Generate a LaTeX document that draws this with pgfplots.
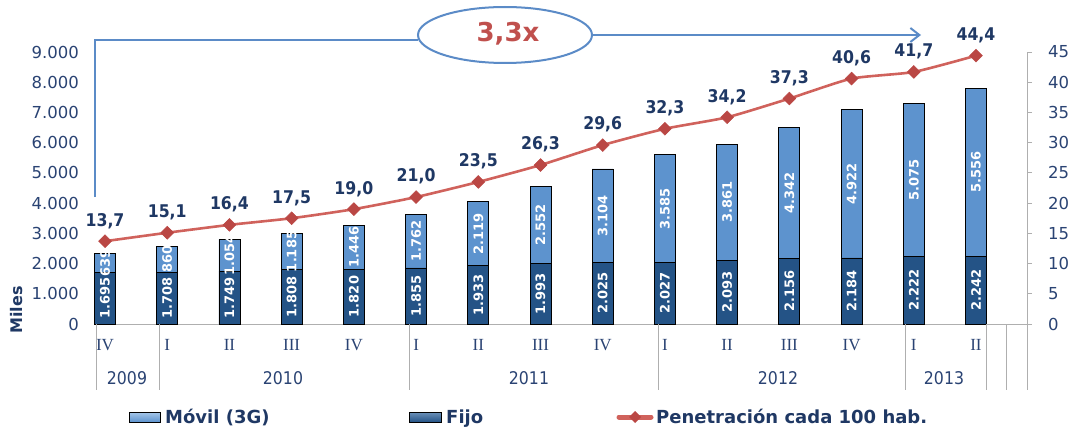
\documentclass[border=0pt]{standalone}
\usepackage{pgfplots}
\pgfplotsset{compat=1.18}
\usepackage{pgfplotstable}
\usepackage{fontspec}
\setmainfont{DejaVu Sans}
\newfontfamily\condfont{DejaVu Sans Condensed}
\newfontfamily\romanfont{Liberation Serif}
\usetikzlibrary{arrows.meta}

\definecolor{navy}{HTML}{1F3864}
\definecolor{ticknavy}{HTML}{2A4373}
\definecolor{fijo}{HTML}{2E639C}
\definecolor{fijodark}{HTML}{245386}
\definecolor{movil}{HTML}{6CA2DB}
\definecolor{movildark}{HTML}{5D93CE}
\definecolor{linered}{HTML}{D0625C}
\definecolor{markred}{HTML}{BA4744}
\definecolor{annred}{HTML}{C0504D}
\definecolor{annblue}{HTML}{5B8BC7}
\definecolor{divgray}{HTML}{AFAFAF}

\pgfplotstableread{
x  fijo movil pen
0  1695 639  13.7
1  1708 860  15.1
2  1749 1054 16.4
3  1808 1185 17.5
4  1820 1446 19.0
5  1855 1762 21.0
6  1933 2119 23.5
7  1993 2552 26.3
8  2025 3104 29.6
9  2027 3585 32.3
10 2093 3861 34.2
11 2156 4342 37.3
12 2184 4922 40.6
13 2222 5075 41.7
14 2242 5556 44.4
}\data

\pgfplotsset{
  base/.style={at={(96pt,108pt)}, anchor=south west, scale only axis,
    width=931pt, height=272pt, xmin=-0.145, xmax=14.82, clip=false},
}

\begin{document}
\begin{tikzpicture}
\path[use as bounding box] (0,0) rectangle (1070pt,432pt);

\begin{axis}[base, ymin=0, ymax=9000, ybar stacked, bar width=21pt,
  axis x line*=bottom, axis y line*=left,
  x axis line style={draw=divgray, line width=1pt},
  y axis line style={draw=none},
  major tick length=0pt,
  xtick={0,...,14},
  xticklabels={IV,I,II,III,IV,I,II,III,IV,I,II,III,IV,I,II},
  xticklabel style={font=\romanfont\fontsize{17}{17}\selectfont, text=ticknavy, anchor=center, yshift=-21pt},
  ytick={0,1000,...,9000},
  yticklabel={\fontsize{16.5}{18}\selectfont\pgfmathprintnumber[1000 sep={.},assume math mode=true]{\tick}},
  yticklabel style={text=ticknavy, anchor=east, inner sep=0pt, xshift=-17pt},
]
\addplot[left color=fijodark, middle color=fijo, right color=fijodark, draw=black, line width=0.8pt] table[x=x,y=fijo]{\data};
\addplot[left color=movildark, middle color=movil, right color=movildark, draw=black, line width=0.8pt] table[x=x,y=movil]{\data};
\end{axis}

\begin{axis}[base, ymin=0, ymax=9000, hide axis,
  /pgf/number format/1000 sep={.},
  /pgf/number format/assume math mode=true]
\addplot[draw=none, mark=none, nodes near coords, point meta=explicit,
  nodes near coords align={center},
  every node near coord/.append style={rotate=90, font=\bfseries\fontsize{13}{13}\selectfont, text=white, inner sep=0pt}]
  table[x=x, y expr=\thisrow{fijo}/2, meta=fijo]{\data};
\addplot[draw=none, mark=none, nodes near coords, point meta=explicit,
  nodes near coords align={center},
  every node near coord/.append style={rotate=90, font=\bfseries\fontsize{13}{13}\selectfont, text=white, inner sep=0pt}]
  table[x=x, y expr=\thisrow{fijo}+\thisrow{movil}/2, meta=movil]{\data};
\end{axis}

\begin{axis}[base, ymin=0, ymax=45,
  axis x line=none, axis y line*=right,
  y axis line style={draw=divgray, line width=1pt},
  ytick={0,5,...,45},
  tick align=outside, major tick length=5pt,
  ytick style={draw=divgray, line width=0.8pt},
  yticklabel={\fontsize{16.5}{18}\selectfont\pgfmathprintnumber[assume math mode=true]{\tick}},
  yticklabel style={text=ticknavy, anchor=west, inner sep=0pt, xshift=16pt},
]
\addplot[linered, line width=2.6pt, smooth, tension=0.35,
  mark=square*, mark size=4.5pt,
  mark options={rotate=45, fill=markred, draw=markred, line width=0.6pt},
  nodes near coords={\pgfmathprintnumber[fixed,fixed zerofill,precision=1,use comma,assume math mode=true]{\pgfplotspointmeta}},
  every node near coord/.append style={font=\condfont\bfseries\fontsize{17.5}{18}\selectfont, text=navy, anchor=south, yshift=9pt}]
  table[x=x,y=pen]{\data};
\end{axis}

% category dividers below the axis
\foreach \xx in {96,159,409,658,905,986,1006,1027}
  \draw[divgray, line width=1pt] (\xx pt,108pt) -- (\xx pt,42pt);

% year labels
\begin{scope}[every node/.style={font=\condfont\fontsize{17.5}{18}\selectfont, text=ticknavy}]
\node at (127pt,54pt) {2009};
\node at (283pt,54pt) {2010};
\node at (529pt,54pt) {2011};
\node at (778pt,54pt) {2012};
\node at (944pt,54pt) {2013};
\end{scope}

% y label
\node[rotate=90, font=\bfseries\fontsize{16}{18}\selectfont, text=navy] at (17pt,122pt) {Miles};

% annotation
\draw[annblue, line width=2.5pt] (95pt,235pt) -- (95pt,392pt) -- (418pt,392pt);
\draw[annblue, line width=2pt, fill=white] (505pt,397pt) ellipse [x radius=87pt, y radius=28pt];
\node[font=\bfseries\fontsize{26}{28}\selectfont, text=annred] at (508pt,398pt) {3,3x};
\draw[annblue, line width=2.5pt, -{Straight Barb[length=9pt,width=14pt,line width=2pt]}] (593pt,397pt) -- (921pt,397pt);

% legend
\draw[black, line width=0.8pt, top color=movil!60!white, bottom color=movildark] (129pt,10pt) rectangle (160pt,20pt);
\node[anchor=base west, inner sep=0pt, font=\bfseries\fontsize{18}{20}\selectfont, text=navy] at (165pt,9pt) {Móvil (3G)};
\draw[black, line width=0.8pt, top color=fijo!70!white, bottom color=fijodark] (409pt,10pt) rectangle (441pt,20pt);
\node[anchor=base west, inner sep=0pt, font=\bfseries\fontsize{18}{20}\selectfont, text=navy] at (446pt,9pt) {Fijo};
\draw[linered, line width=5pt, line cap=round] (619pt,15pt) -- (651pt,15pt);
\fill[markred] (635pt,21pt) -- (641pt,15pt) -- (635pt,9pt) -- (629pt,15pt) -- cycle;
\node[anchor=base west, inner sep=0pt, font=\bfseries\fontsize{18}{20}\selectfont, text=navy] at (656pt,9pt) {Penetración cada 100 hab.};
\end{tikzpicture}
\end{document}
